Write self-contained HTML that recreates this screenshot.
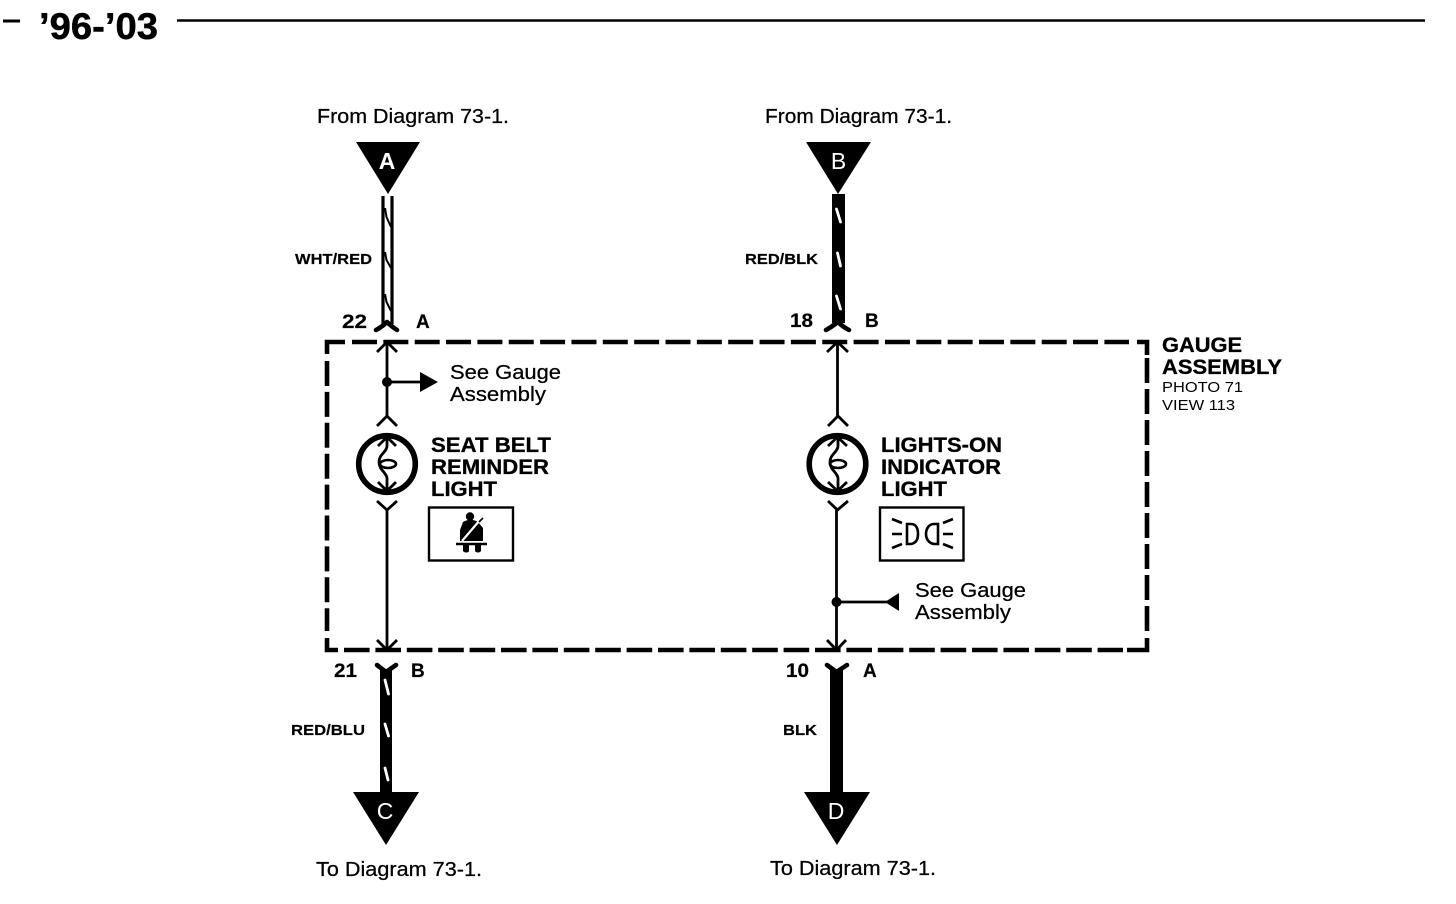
<!DOCTYPE html>
<html><head><meta charset="utf-8"><style>
html,body{margin:0;padding:0;background:#fff;width:1456px;height:904px;overflow:hidden}
svg{display:block}
text{font-family:"Liberation Sans",sans-serif;fill:#000}
.r{font-size:20px;stroke:#000;stroke-width:.25}
.b{font-weight:bold;font-size:21px;stroke:#000;stroke-width:.3}
.w{font-weight:bold;font-size:15px;stroke:#000;stroke-width:.2}
.n{font-weight:bold;font-size:19px;stroke:#000;stroke-width:.2}
.s{font-size:15px}
.l{font-size:23px;fill:#fff}
.ln{stroke:#000;fill:none;stroke-width:2.8}
.th{stroke:#000;fill:none;stroke-width:4.6;stroke-linecap:round;stroke-linejoin:round}
.sl{stroke:#fff;stroke-width:2.8;stroke-linecap:round}
</style></head><body>
<svg width="1456" height="904" viewBox="0 0 1456 904" xmlns="http://www.w3.org/2000/svg">
<!-- header -->
<line x1="3" y1="21" x2="20" y2="21" stroke="#000" stroke-width="3"/>
<line x1="177" y1="20.5" x2="1425" y2="20.5" stroke="#000" stroke-width="2.4"/>
<text x="39" y="39" font-size="37" font-weight="bold" stroke="#000" stroke-width=".5" textLength="119" lengthAdjust="spacingAndGlyphs">’96-’03</text>

<!-- dashed box -->
<g stroke="#000" stroke-width="4.6" fill="none">
<line x1="352" y1="342" x2="1129" y2="342" stroke-dasharray="25 6.35"/>
<line x1="344" y1="650" x2="1123" y2="650" stroke-dasharray="25.6 5.8"/>
<line x1="327" y1="361" x2="327" y2="631" stroke-dasharray="25 5.9"/>
<line x1="1147" y1="358" x2="1147" y2="632" stroke-dasharray="25 6"/>
<path d="M327 354V342H345"/>
<path d="M327 638V650H338"/>
<path d="M1137 342H1147V355"/>
<path d="M1127 650H1147V638"/>
</g>

<!-- top labels -->
<text class="r" x="317" y="123" textLength="192" lengthAdjust="spacingAndGlyphs">From Diagram 73-1.</text>
<text class="r" x="765" y="123" textLength="187" lengthAdjust="spacingAndGlyphs">From Diagram 73-1.</text>

<!-- triangles -->
<polygon points="356,142 420,142 388,194" fill="#000"/>
<polygon points="806,142 871,142 838,194" fill="#000"/>
<polygon points="353,792 419,792 386,845" fill="#000"/>
<polygon points="804,792 870,792 837,845" fill="#000"/>
<text class="l" x="387" y="169" text-anchor="middle" style="font-weight:bold">A</text>
<text class="l" x="838.5" y="169" text-anchor="middle">B</text>
<text class="l" x="385" y="819" text-anchor="middle">C</text>
<text class="l" x="836" y="819" text-anchor="middle">D</text>

<!-- top wires -->
<line x1="383" y1="196" x2="383" y2="324" stroke="#000" stroke-width="3.2"/>
<line x1="392" y1="196" x2="392" y2="324" stroke="#000" stroke-width="3.2"/>
<path d="M385 208L386.5 217L391 227M385 252L386.5 260L391 268M385 294L386.5 302L391 311" fill="none" stroke="#000" stroke-width="2"/>
<rect x="832" y="194" width="13" height="129" fill="#000"/>
<line class="sl" x1="836.5" y1="209" x2="840.5" y2="222"/>
<line class="sl" x1="837.5" y1="253" x2="840.5" y2="266"/>
<line class="sl" x1="836.5" y1="296" x2="840.5" y2="309"/>

<!-- bottom wires -->
<rect x="380" y="669" width="12" height="125" fill="#000"/>
<line class="sl" x1="385" y1="680" x2="388.5" y2="694"/>
<line class="sl" x1="385" y1="724" x2="388.5" y2="736"/>
<line class="sl" x1="385" y1="768" x2="388" y2="780"/>
<rect x="830" y="669" width="13" height="125" fill="#000"/>

<!-- connector Ys -->
<path class="th" d="M376 330C380 328 384 325 387 322C390 325 394 328 397 330"/>
<path class="th" d="M826 330C830 328 834 325 838 322C841 325 845 328 849 330"/>
<path class="th" d="M377 665L386 672L396 665"/>
<path class="th" d="M827 665L836.5 672L847 665"/>

<!-- left circuit -->
<line class="ln" x1="387" y1="342" x2="387" y2="417"/>
<path class="ln" d="M377 352L387 342L397 352"/>
<path class="ln" d="M377 426L387 416L397 426"/>
<circle cx="387" cy="382" r="5" fill="#000"/>
<line class="ln" x1="387" y1="382" x2="422" y2="382"/>
<polygon points="420,372 438,382 420,392" fill="#000"/>
<circle cx="387" cy="464" r="28.3" fill="none" stroke="#000" stroke-width="5.6"/>
<path class="ln" d="M387 436V446C387 452 379 454 379 462C379 470 386 472 387 478V492"/>
<ellipse cx="388" cy="464" rx="8" ry="4" fill="none" stroke="#000" stroke-width="2.6"/>
<path class="ln" stroke-width="3.2" d="M378 446L387 437L396 446"/>
<path class="ln" stroke-width="3.2" d="M378 482L387 491L396 482"/>
<path class="ln" d="M377 501L387 510L397 501"/>
<line class="ln" x1="387" y1="510" x2="387" y2="650"/>
<path class="ln" d="M377 640L387 650L397 640"/>

<!-- right circuit -->
<line class="ln" x1="837.5" y1="342" x2="837.5" y2="417"/>
<path class="ln" d="M827 352L837.5 342L848 352"/>
<path class="ln" d="M828 426L838 416L848 426"/>
<circle cx="837.5" cy="464" r="28.3" fill="none" stroke="#000" stroke-width="5.6"/>
<path class="ln" d="M838 436V446C838 452 830 454 830 462C830 470 837 472 838 478V492"/>
<ellipse cx="838" cy="464" rx="8" ry="4" fill="none" stroke="#000" stroke-width="2.6"/>
<path class="ln" stroke-width="3.2" d="M828 446L837.5 437L847 446"/>
<path class="ln" stroke-width="3.2" d="M828 482L837.5 491L847 482"/>
<path class="ln" d="M828 501L837.5 510L848 501"/>
<line class="ln" x1="836.5" y1="510" x2="836.5" y2="650"/>
<path class="ln" d="M827 640L836.5 650L846 640"/>
<circle cx="836.5" cy="602" r="5" fill="#000"/>
<line class="ln" x1="836" y1="602" x2="890" y2="602"/>
<polygon points="885,602 899,593 899,611" fill="#000"/>

<!-- component text -->
<text class="r" x="450" y="379" textLength="111" lengthAdjust="spacingAndGlyphs">See Gauge</text>
<text class="r" x="450" y="401" textLength="96" lengthAdjust="spacingAndGlyphs">Assembly</text>
<text class="r" x="915" y="597" textLength="111" lengthAdjust="spacingAndGlyphs">See Gauge</text>
<text class="r" x="915" y="619" textLength="96" lengthAdjust="spacingAndGlyphs">Assembly</text>
<text class="b" x="431" y="452" textLength="120" lengthAdjust="spacingAndGlyphs">SEAT BELT</text>
<text class="b" x="431" y="474" textLength="118" lengthAdjust="spacingAndGlyphs">REMINDER</text>
<text class="b" x="431" y="496" textLength="66" lengthAdjust="spacingAndGlyphs">LIGHT</text>
<text class="b" x="881" y="452" textLength="121" lengthAdjust="spacingAndGlyphs">LIGHTS-ON</text>
<text class="b" x="881" y="474" textLength="120" lengthAdjust="spacingAndGlyphs">INDICATOR</text>
<text class="b" x="881" y="496" textLength="66" lengthAdjust="spacingAndGlyphs">LIGHT</text>
<text class="b" x="1162" y="352" textLength="80" lengthAdjust="spacingAndGlyphs">GAUGE</text>
<text class="b" x="1162" y="374" textLength="120" lengthAdjust="spacingAndGlyphs">ASSEMBLY</text>
<text class="s" x="1162" y="392" textLength="81" lengthAdjust="spacingAndGlyphs">PHOTO 71</text>
<text class="s" x="1162" y="410" textLength="73" lengthAdjust="spacingAndGlyphs">VIEW 113</text>

<!-- seat belt icon -->
<rect x="429" y="507.5" width="84" height="53" fill="none" stroke="#000" stroke-width="2.4"/>
<circle cx="470" cy="516.5" r="4.2" fill="#000"/>
<path d="M463 522C468 519 473 519 478 522L483 528V541H460V530Z" fill="#000"/>
<path d="M463 545H469V551C469 553 464 553 463 551ZM475 545H481V551C480 553 476 553 475 551Z" fill="#000"/>
<line x1="462" y1="541" x2="480" y2="520" stroke="#fff" stroke-width="2.2"/>
<line x1="479" y1="522" x2="483" y2="518" stroke="#000" stroke-width="1.6"/>
<line x1="456" y1="544" x2="487" y2="544" stroke="#000" stroke-width="2.4"/>

<!-- headlight icon -->
<rect x="880" y="507.5" width="83.5" height="53" fill="none" stroke="#000" stroke-width="2.4"/>
<g stroke="#000" stroke-width="2.6" fill="none">
<path d="M907 524H911C917 524 918 530 918 534C918 538 917 543 911 544H907Z"/>
<path d="M938 524H934C928 524 926 530 926 534C926 538 928 543 934 544H938Z"/>
<path d="M892 519L902 523M892 534H902M892 548L902 544"/>
<path d="M943 523L953 519M943 534H953M943 544L953 548"/>
</g>

<!-- wire labels -->
<text class="w" x="295" y="264" textLength="77" lengthAdjust="spacingAndGlyphs">WHT/RED</text>
<text class="w" x="745" y="264" textLength="73" lengthAdjust="spacingAndGlyphs">RED/BLK</text>
<text class="w" x="291" y="735" textLength="74" lengthAdjust="spacingAndGlyphs">RED/BLU</text>
<text class="w" x="783" y="735" textLength="34" lengthAdjust="spacingAndGlyphs">BLK</text>
<text class="n" x="342" y="328" textLength="25" lengthAdjust="spacingAndGlyphs">22</text>
<text class="n" x="416" y="328">A</text>
<text class="n" x="790" y="327" textLength="23" lengthAdjust="spacingAndGlyphs">18</text>
<text class="n" x="865" y="327">B</text>
<text class="n" x="334" y="677" textLength="23" lengthAdjust="spacingAndGlyphs">21</text>
<text class="n" x="411" y="677">B</text>
<text class="n" x="786" y="677" textLength="23" lengthAdjust="spacingAndGlyphs">10</text>
<text class="n" x="863" y="677">A</text>

<!-- bottom labels -->
<text class="r" x="316" y="876" textLength="166" lengthAdjust="spacingAndGlyphs">To Diagram 73-1.</text>
<text class="r" x="770" y="875" textLength="166" lengthAdjust="spacingAndGlyphs">To Diagram 73-1.</text>
</svg>
</body></html>
